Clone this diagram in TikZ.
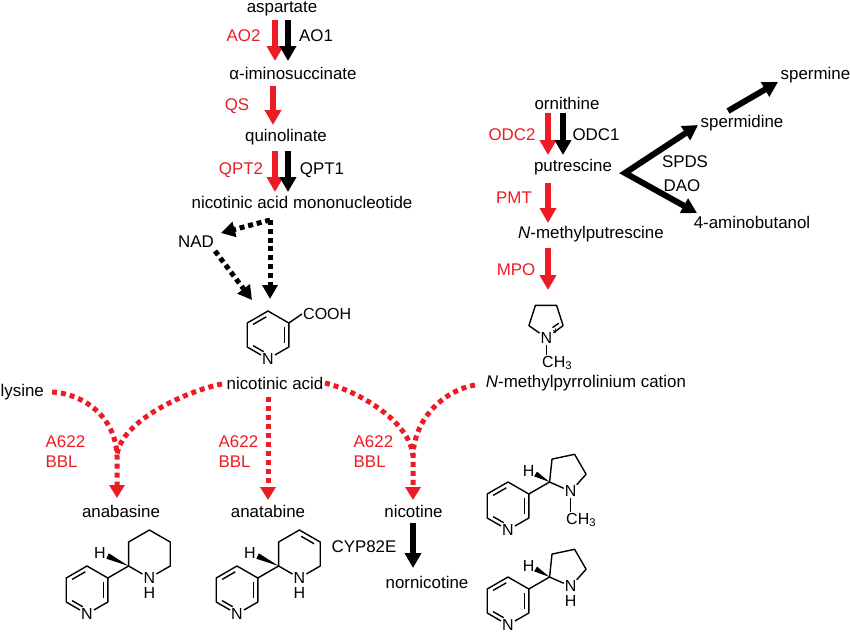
\documentclass[tikz,border=0pt]{standalone}
\usepackage{fontspec}
\setmainfont{Liberation Sans}
\usetikzlibrary{arrows.meta}
\definecolor{pred}{RGB}{237,28,36}
\tikzset{
  lbl/.style={inner sep=0.5pt},
  rlbl/.style={inner sep=0.5pt, text=pred},
  bigarrow/.style={line width=6pt, -{Triangle[width=16pt,length=15pt]}},
  redarrow/.style={bigarrow, color=pred},
  bivee/.style={line width=6pt, line join=miter, {Triangle[width=16pt,length=15pt]}-{Triangle[width=16pt,length=15pt]}},
  blkdots/.style={line width=5pt, dash pattern=on 5pt off 3.8pt, -{Triangle[width=15pt,length=14pt]}},
  reddots/.style={line width=5pt, dash pattern=on 5pt off 4pt, color=pred},
  reddotsarrow/.style={reddots, -{Triangle[width=15pt,length=13pt]}},
  bond/.style={line width=1.4pt, line join=round},
  atom/.style={inner sep=1pt, font=\fontsize{16}{18}\selectfont},
  pyridine/.pic={
    \coordinate (-T) at (0,-24);
    \coordinate (-UR) at (20.8,-12);
    \coordinate (-LR) at (20.8,12);
    \coordinate (-LL) at (-20.8,12);
    \coordinate (-UL) at (-20.8,-12);
    \node[atom] (-N) at (0,24) {N};
    \draw[bond] (-N) -- (-LL) -- (-UL) -- (-T) -- (-UR) -- (-LR) -- (-N);
    \draw[bond, shorten <=2pt, shorten >=2pt] (0,-19.2) -- (-16.64,-9.6);
    \draw[bond, shorten <=2pt, shorten >=2pt] (16.64,-9.6) -- (16.64,9.6);
    \draw[bond, shorten <=2pt, shorten >=5pt] (-16.64,9.6) -- (0,19.2);
  }
}
\begin{document}
\begin{tikzpicture}[x=1pt,y=-1pt,font=\fontsize{16.9}{20}\selectfont]
\useasboundingbox (0,0) rectangle (850,633);

% ---------- aspartate pathway ----------
\node[lbl] (asp) at (282,9) {aspartate};
\node[lbl] (imino) at (293,73) {α-iminosuccinate};
\node[lbl] (quin) at (286,137) {quinolinate};
\node[lbl] (namn) at (302,202) {nicotinic acid mononucleotide};
\node[rlbl] (ao2) at (243.5,36) {AO2};
\node[lbl] (ao1) at (316,36) {AO1};
\node[rlbl] (qs) at (237,106) {QS};
\node[rlbl] (qpt2) at (241,170) {QPT2};
\node[lbl] (qpt1) at (322,170) {QPT1};

\coordinate (ao2a) at (275,20);  \coordinate (ao2b) at (275,61);
\coordinate (ao1a) at (288,20);  \coordinate (ao1b) at (288,61);
\coordinate (qsa) at (273,86);   \coordinate (qsb) at (273,125);
\coordinate (qp2a) at (275,151); \coordinate (qp2b) at (275,192);
\coordinate (qp1a) at (288,151); \coordinate (qp1b) at (288,192);
\draw[redarrow] (ao2a) -- (ao2b);
\draw[bigarrow] (ao1a) -- (ao1b);
\draw[redarrow] (qsa) -- (qsb);
\draw[redarrow] (qp2a) -- (qp2b);
\draw[bigarrow] (qp1a) -- (qp1b);

% NAD branch
\node[lbl] (nad) at (196,242) {NAD};
\coordinate (dtop) at (270,220);
\coordinate (dbot) at (270,299);
\coordinate (nadin) at (221,233);
\coordinate (nadout) at (215,251);
\coordinate (nadend) at (252,300);
\draw[blkdots] (dtop) -- (dbot);
\draw[blkdots] (dtop) -- (nadin);
\draw[blkdots] (nadout) -- (nadend);

% nicotinic acid structure
\pic (na) at (268,335) {pyridine};
\node[atom, anchor=west] (cooh) at (302,314) {COOH};
\draw[bond] (na-UR) -- (cooh.west);
\node[lbl] (nacid) at (275,383) {nicotinic acid};

% ---------- ornithine pathway ----------
\node[lbl] (orn) at (567,103) {ornithine};
\node[rlbl] (odc2) at (512,135) {ODC2};
\node[lbl] (odc1) at (596,135) {ODC1};
\node[lbl] (put) at (573,167) {putrescine};
\node[rlbl] (pmt) at (514,198) {PMT};
\node[lbl] (nmp) at (591,234) {\textit{N}-methylputrescine};
\node[rlbl] (mpo) at (516,270) {MPO};
\node[lbl] (spd) at (742,123) {spermidine};
\node[lbl, anchor=west] (spm) at (780,75) {spermine};
\node[lbl] (spds) at (685,162) {SPDS};
\node[lbl] (dao) at (682,186) {DAO};
\node[lbl] (amb) at (752,222) {4-aminobutanol};
\node[lbl] (nmpc) at (586,383) {\textit{N}-methylpyrrolinium cation};

\coordinate (od2a) at (548,113); \coordinate (od2b) at (548,155);
\coordinate (od1a) at (563,113); \coordinate (od1b) at (563,155);
\coordinate (pmta) at (548,183); \coordinate (pmtb) at (548,223);
\coordinate (mpoa) at (548,248); \coordinate (mpob) at (548,290);
\draw[redarrow] (od2a) -- (od2b);
\draw[bigarrow] (od1a) -- (od1b);
\draw[redarrow] (pmta) -- (pmtb);
\draw[redarrow] (mpoa) -- (mpob);

\coordinate (pv) at (625,173);
\coordinate (spdtip) at (698,125);
\coordinate (ambtip) at (697,213);
\draw[bivee] (spdtip) -- (pv) -- (ambtip);
\coordinate (spma) at (728,111);
\coordinate (spmb) at (778,82);
\draw[bigarrow] (spma) -- (spmb);

% pyrrolinium ring
\coordinate (pyrL) at (528.9,325.6);
\coordinate (pyrTL) at (535.4,305.4);
\coordinate (pyrTR) at (556.6,305.4);
\coordinate (pyrR) at (563.1,325.6);
\node[atom] (pyrN) at (546.5,338) {N};
\draw[bond] (pyrR) -- (pyrN) -- (pyrL) -- (pyrTL) -- (pyrTR) -- (pyrR);
\draw[bond] (558.8,323.2) -- (552.5,327.6);
\node[inner sep=0pt, font=\fontsize{10}{10}\selectfont] (pyrplus) at (555.5,331.5) {+};
\node[atom, anchor=north west] (pyrme) at (541,355) {CH\textsubscript{3}};
\draw[bond] (pyrN.south) -- (pyrN.south |- pyrme.north);

% ---------- A622 / BBL branches ----------
\node[lbl, anchor=west] (lys) at (0,392) {lysine};
\coordinate (lysout) at (52,392);
\coordinate (j1) at (117,456);
\coordinate (anabtip) at (117,498);
\coordinate (nacl) at (222,384);
\coordinate (nacv) at (268,397);
\coordinate (anattip) at (268,500);
\coordinate (nacr) at (325,383);
\coordinate (j2) at (413,456);
\coordinate (nictip) at (413,500);
\coordinate (nmpcout) at (475,385);

\draw[reddotsarrow] (lysout) .. controls (85,394) and (116,418) .. (j1) -- (anabtip);
\draw[reddots] (nacl) .. controls (190,390) and (120,420) .. (j1);
\draw[reddotsarrow] (nacv) -- (anattip);
\draw[reddotsarrow] (nacr) .. controls (355,390) and (410,420) .. (j2) -- (nictip);
\draw[reddots] (nmpcout) .. controls (445,390) and (414,418) .. (j2);

\node[rlbl, anchor=west, align=left] (bbl1) at (45,452) {A622\\BBL};
\node[rlbl, anchor=west, align=left] (bbl2) at (218,452) {A622\\BBL};
\node[rlbl, anchor=west, align=left] (bbl3) at (353,452) {A622\\BBL};

\node[lbl] (anab) at (121,511) {anabasine};
\node[lbl] (anat) at (268,511) {anatabine};
\node[lbl] (nic) at (413.5,511) {nicotine};
\node[lbl] (cyp) at (364,547) {CYP82E};
\node[lbl] (nornic) at (427,582) {nornicotine};
\coordinate (cypa) at (413,523);
\coordinate (cypb) at (413,568);
\draw[bigarrow] (cypa) -- (cypb);

% ---------- anabasine structure ----------
\begin{scope}[shift={(87,590)}]
  \pic (anbp) at (0,0) {pyridine};
  \coordinate (anbC2) at (41.6,-24);
  \coordinate (anbC3) at (41.6,-48);
  \coordinate (anbC4) at (62.4,-60);
  \coordinate (anbC5) at (83.2,-48);
  \coordinate (anbC6) at (83.2,-24);
  \node[atom] (anbN) at (62.4,-12) {N};
  \node[atom] (anbNH) at (62.4,2.5) {H};
  \draw[bond] (anbp-UR) -- (anbC2) -- (anbC3) -- (anbC4) -- (anbC5) -- (anbC6) -- (anbN) -- (anbC2);
  \fill (anbC2) -- (21.9,-36.7) -- (19.3,-31.3) -- cycle;
  \node[atom] (anbH) at (13,-37) {H};
\end{scope}

% ---------- anatabine structure ----------
\begin{scope}[shift={(237,590)}]
  \pic (antp) at (0,0) {pyridine};
  \coordinate (antC2) at (41.6,-24);
  \coordinate (antC3) at (41.6,-48);
  \coordinate (antC4) at (62.4,-60);
  \coordinate (antC5) at (83.2,-48);
  \coordinate (antC6) at (83.2,-24);
  \node[atom] (antN) at (62.4,-12) {N};
  \node[atom] (antNH) at (62.4,2.5) {H};
  \draw[bond] (antp-UR) -- (antC2) -- (antC3) -- (antC4) -- (antC5) -- (antC6) -- (antN) -- (antC2);
  \draw[bond, shorten <=2pt, shorten >=2pt] (62.4,-54.7) -- (78.8,-45.3);
  \fill (antC2) -- (21.9,-36.7) -- (19.3,-31.3) -- cycle;
  \node[atom] (antH) at (13,-37) {H};
\end{scope}

% ---------- nicotine structure ----------
\begin{scope}[shift={(508,506)}]
  \pic (nicp) at (0,0) {pyridine};
  \coordinate (nicC2) at (41.6,-24);
  \coordinate (nicC3) at (44.0,-46.9);
  \coordinate (nicC4) at (66.6,-51.7);
  \coordinate (nicC5) at (78.1,-31.75);
  \node[atom] (nicN) at (62.7,-14.6) {N};
  \draw[bond] (nicp-UR) -- (nicC2) -- (nicC3) -- (nicC4) -- (nicC5) -- (nicN) -- (nicC2);
  \node[atom, anchor=north west] (nicme) at (57,6) {CH\textsubscript{3}};
  \draw[bond] (nicN.south) -- (nicN.south |- nicme.north);
  \fill (nicC2) -- (29,-34.4) -- (26.2,-29.6) -- cycle;
  \node[atom] (nicH) at (20.6,-35) {H};
\end{scope}

% ---------- nornicotine structure ----------
\begin{scope}[shift={(508,601)}]
  \pic (nnp) at (0,0) {pyridine};
  \coordinate (nnC2) at (41.6,-24);
  \coordinate (nnC3) at (44.0,-46.9);
  \coordinate (nnC4) at (66.6,-51.7);
  \coordinate (nnC5) at (78.1,-31.75);
  \node[atom] (nnN) at (62.7,-14.6) {N};
  \node[atom] (nnNH) at (62.7,0.4) {H};
  \draw[bond] (nnp-UR) -- (nnC2) -- (nnC3) -- (nnC4) -- (nnC5) -- (nnN) -- (nnC2);
  \fill (nnC2) -- (29,-34.4) -- (26.2,-29.6) -- cycle;
  \node[atom] (nnH) at (20.6,-35) {H};
\end{scope}
\end{tikzpicture}
\end{document}
